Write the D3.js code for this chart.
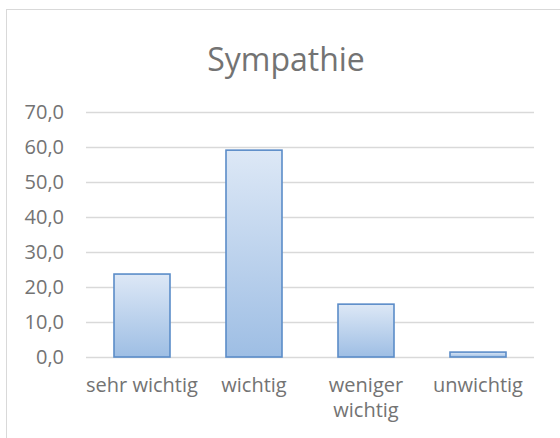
<!DOCTYPE html>
<html><head><meta charset="utf-8">
<script src="https://cdn.jsdelivr.net/npm/d3@7"></script>
<style>body{margin:0;background:#fff}svg{display:block}text{font-family:"Open Sans",sans-serif}</style>
</head><body><svg id="c" width="560" height="438"></svg>
<script>
const categories = [["sehr wichtig"], ["wichtig"], ["weniger", "wichtig"], ["unwichtig"]];
const values = [23.7, 59.1, 15.1, 1.4];
const ticks = [0, 10, 20, 30, 40, 50, 60, 70];
const title = "Sympathie";

const svg = d3.select("#c");
svg.append("rect").attr("x", 6.5).attr("y", 9.5).attr("width", 600).attr("height", 500)
  .attr("fill", "#fff").attr("stroke", "#d9d9d9");

const defs = svg.append("defs");
const g = defs.append("linearGradient").attr("id", "bg").attr("x1", 0).attr("y1", 0).attr("x2", 0).attr("y2", 1);
g.append("stop").attr("offset", "0%").attr("stop-color", "#dde8f6");
g.append("stop").attr("offset", "100%").attr("stop-color", "#9ebee4");

const pLeft = 86, pRight = 534, pTop = 112, pBottom = 357;
const x = d3.scaleBand().domain(d3.range(categories.length)).range([pLeft, pRight]).paddingInner(0.5).paddingOuter(0.25);
const y = d3.scaleLinear().domain([0, 70]).range([pBottom, pTop]);

svg.append("text").attr("x", 286).attr("y", 71).attr("text-anchor", "middle")
  .attr("font-size", 32).attr("fill", "#737373").text(title);

const yAxis = d3.axisLeft(y).tickValues(ticks).tickSize(-(pRight - pLeft)).tickPadding(22)
  .tickFormat(d => d3.format(".1f")(d).replace(".", ","));
const ya = svg.append("g").attr("transform", `translate(${pLeft},0)`).call(yAxis);
ya.select(".domain").remove();
ya.selectAll(".tick line").attr("stroke", "#d9d9d9").attr("stroke-width", 1.3);
ya.selectAll(".tick text").attr("font-size", 20).attr("fill", "#737373").attr("font-family", "'Open Sans',sans-serif");

svg.selectAll(".bar").data(values).enter().append("rect")
  .attr("class", "bar")
  .attr("x", (d, i) => x(i)).attr("width", x.bandwidth())
  .attr("y", d => y(d)).attr("height", d => y(0) - y(d))
  .attr("fill", "url(#bg)").attr("stroke", "#5b8cc8").attr("stroke-width", 1.6);

const xl = svg.append("g");
categories.forEach((lines, i) => {
  const t = xl.append("text").attr("text-anchor", "middle").attr("font-size", 20).attr("fill", "#737373")
    .attr("x", x(i) + x.bandwidth() / 2).attr("y", 392);
  lines.forEach((l, j) => t.append("tspan").attr("x", x(i) + x.bandwidth() / 2).attr("dy", j ? 25 : 0).text(l));
});
</script></body></html>
